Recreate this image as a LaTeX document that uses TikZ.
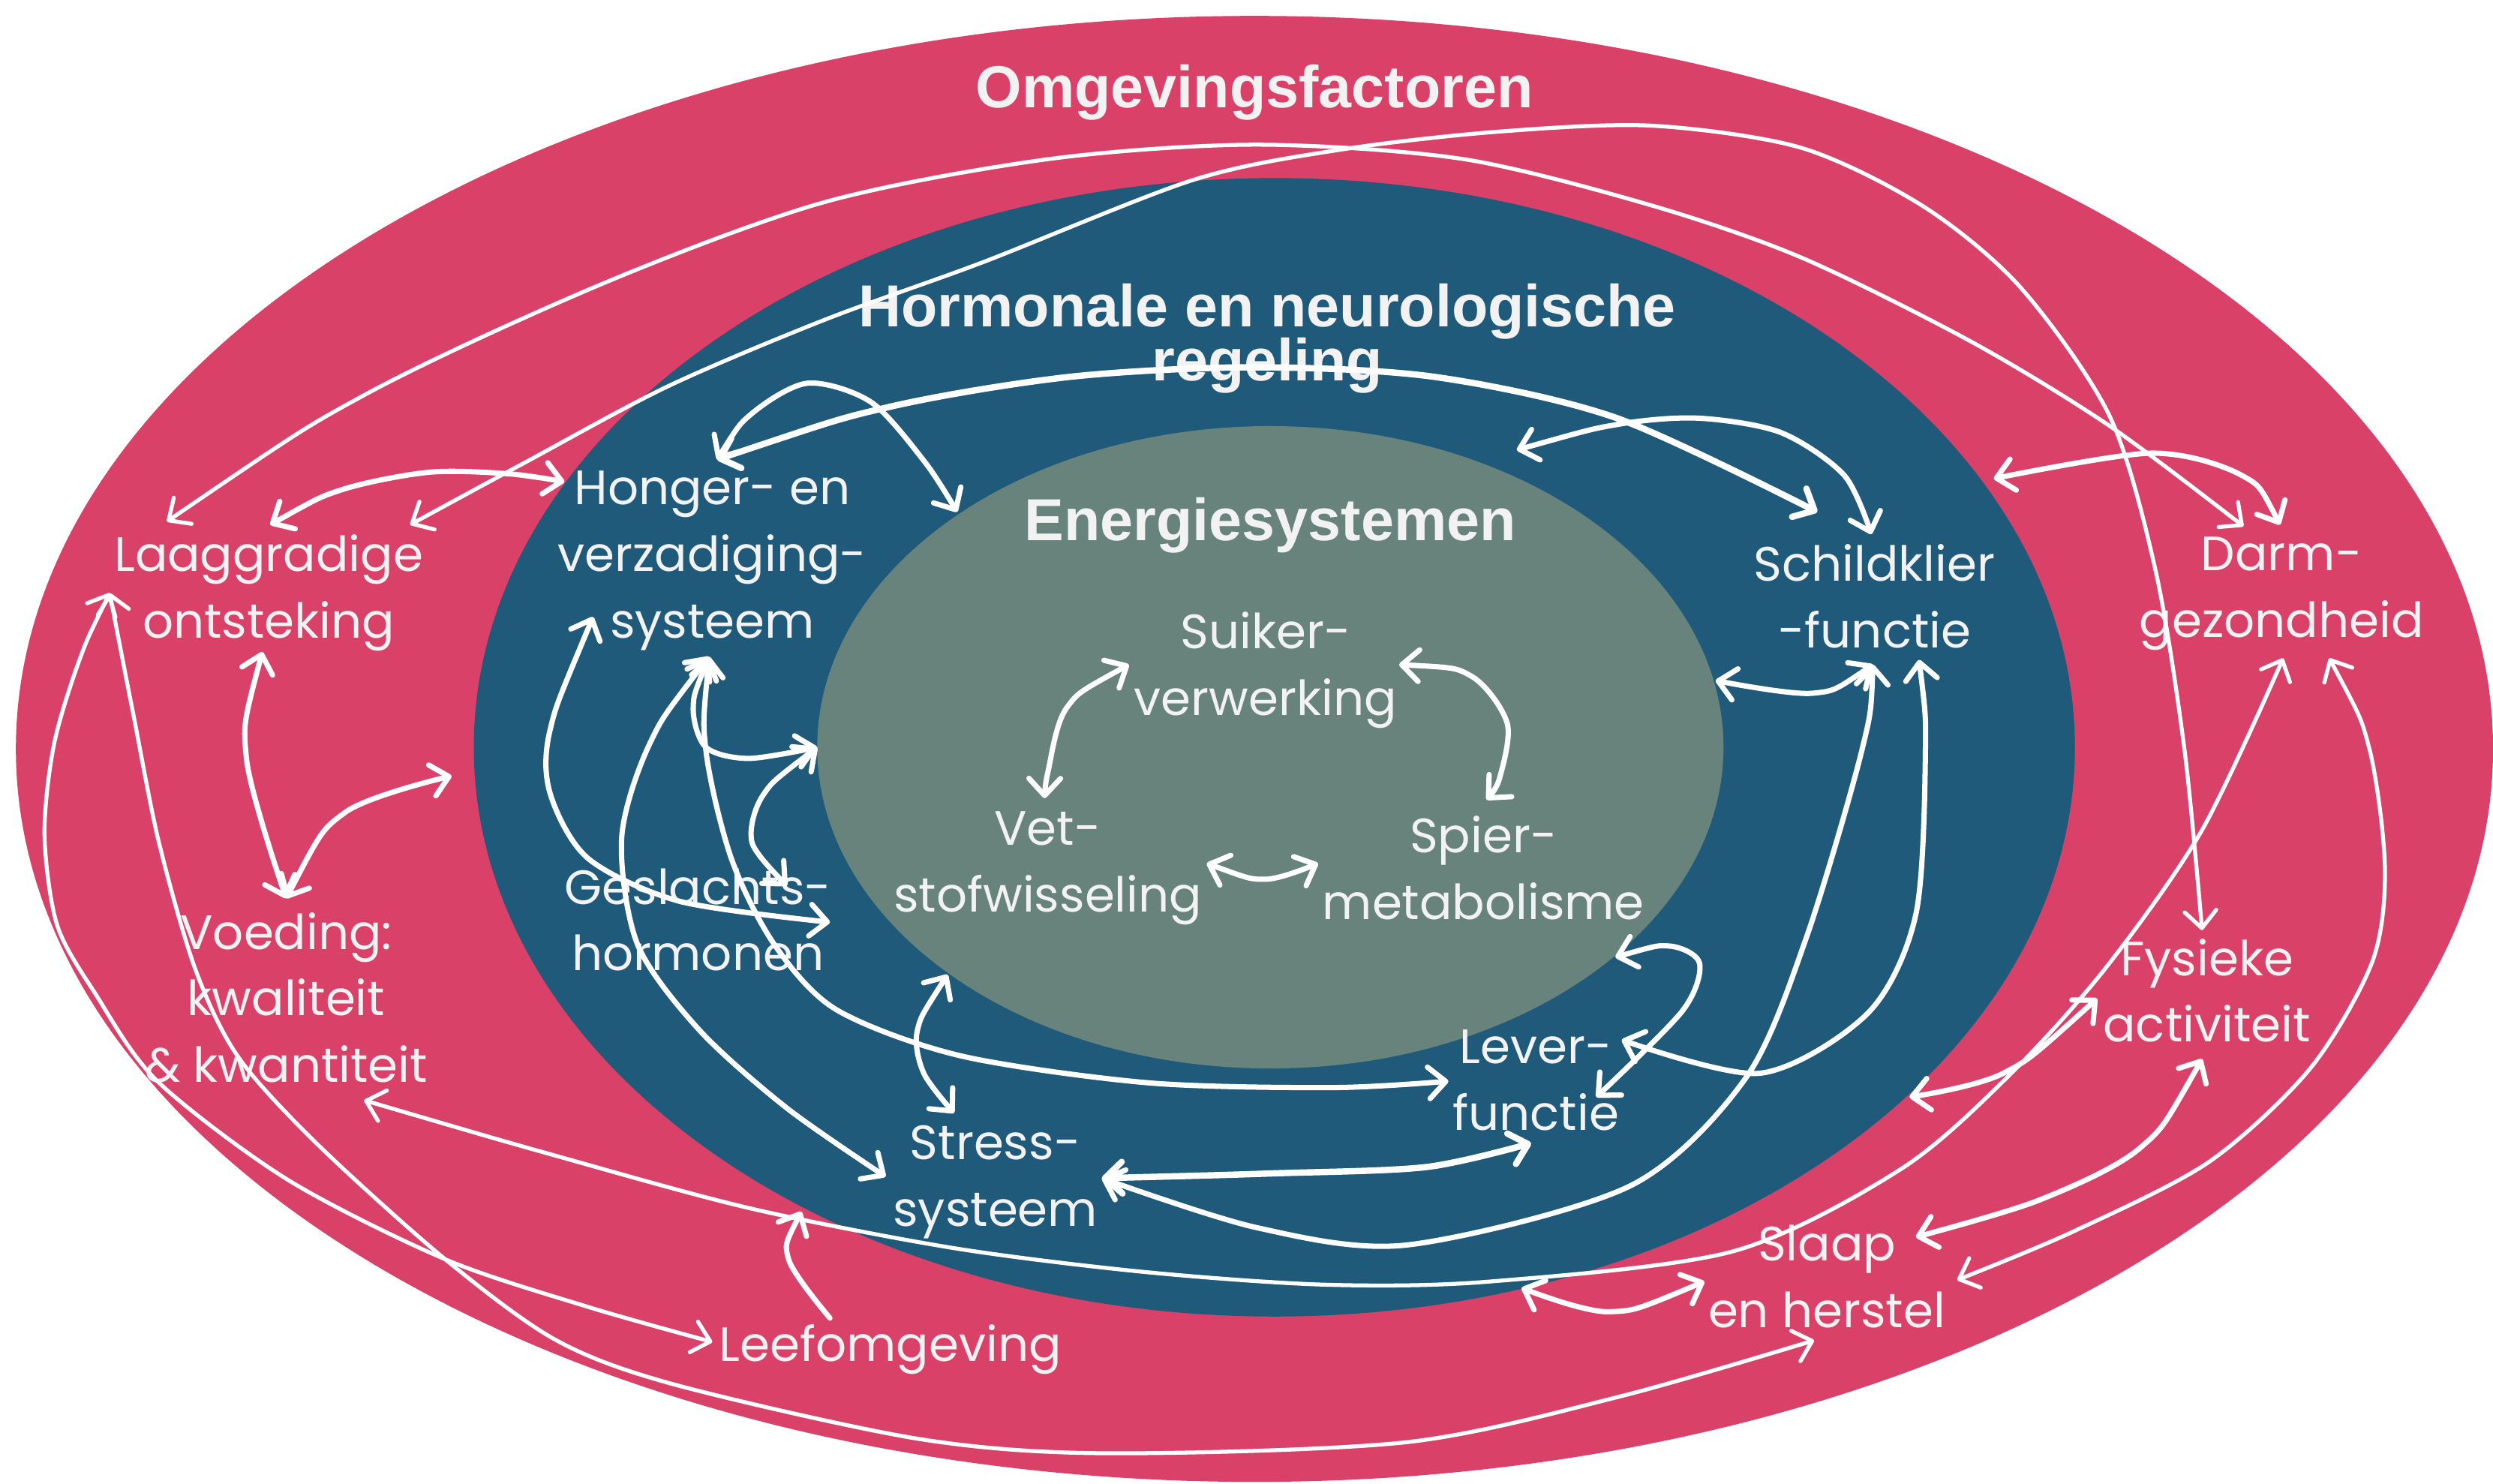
\documentclass[tikz,border=0pt]{standalone}
\usepackage{fontspec}
\setmainfont{Poppins}
\newfontfamily\kopfont{Liberation Sans}
\usetikzlibrary{arrows.meta}
\setlength{\lineskiplimit}{-30pt}

\definecolor{omgev}{HTML}{D94168}
\definecolor{horm}{HTML}{1F5A7B}
\definecolor{energ}{HTML}{67837B}
\definecolor{txt}{HTML}{F2F2F2}

\begin{document}
\begin{tikzpicture}
	[
	x=0.021193cm, y=-0.021193cm, >={Straight Barb[length=6.5pt,width=12pt,round]},
	%Voreinstellungen
	lbl/.style={align=center, text=txt, inner sep=0pt, font=\fontsize{18.3}{25.3}\selectfont},
	ttl/.style={align=center, text=txt, inner sep=0pt, font=\kopfont\bfseries\fontsize{22.5}{20.4}\selectfont},
	link/.style={<->, white, line width=2pt, line cap=round, line join=round},
	thinlink/.style={link, line width=1.5pt},
	boldlink/.style={link, line width=2.4pt}
	]

	%Rahmen
	\useasboundingbox (0,0) rectangle (1568,933.3);
	\fill[white] (0,0) rectangle (1568,933.3);

	%Ellipsen
	\fill[omgev] (789,471) ellipse [x radius=779, y radius=461];
	\fill[horm] (801.5,470) ellipse [x radius=503.5, y radius=358];
	\fill[energ] (799,470) ellipse [x radius=285, y radius=202];

	%Titel
	\node[ttl, anchor=base] (tOmg) at (789,67.6) {Omgevingsfactoren};
	\node[ttl] (tHorm) at (797,213) {Hormonale en neurologische\\regeling};
	\node[ttl, anchor=base] (tEnerg) at (799,340) {Energiesystemen};

	%Beschriftung innen
	\node[lbl] (suiker) at (796,421.5) {Suiker-\\verwerking};
	\node[lbl] (vet) at (659,546) {Vet-\\stofwisseling};
	\node[lbl] (spier) at (933,546) {Spier-\\metabolisme};

	%Beschriftung Mitte
	\node[lbl] (honger) at (448,352.5) {Honger- en\\verzadiging-\\systeem};
	\node[lbl] (geslacht) at (439,578.5) {Geslachts-\\hormonen};
	\node[lbl] (stress) at (626,743.5) {Stress-\\systeem};
	\node[lbl] (lever) at (966,679.5) {Lever-\\functie};
	\node[lbl] (schild) at (1179,375) {Schildklier\\-functie};

	%Beschriftung aussen
	\node[lbl] (laag) at (169,373) {Laaggradige\\ontsteking};
	\node[lbl] (voeding) at (180,627.5) {Voeding:\\kwaliteit\\\& kwantiteit};
	\node[lbl, anchor=base] (leef) at (560,856) {Leefomgeving};
	\node[lbl] (slaap) at (1149,803) {Slaap\\en herstel};
	\node[lbl] (fysiek) at (1388,623) {Fysieke\\activiteit};
	\node[lbl] (darm) at (1435,373.5) {Darm-\\gezondheid};

	%Endpunkte
	\coordinate (laagA) at (105,328);
	\coordinate (laagB) at (258,330);
	\coordinate (laagC) at (170,330);
	\coordinate (laagD) at (165,410);
	\coordinate (laagE) at (69,373);
	\coordinate (darmA) at (1411,331);
	\coordinate (darmB) at (1436,414);
	\coordinate (darmC) at (1465,414);
	\coordinate (darmD) at (1434,330);
	\coordinate (fysA) at (1385,585);
	\coordinate (fysB) at (1385,666);
	\coordinate (fysC) at (1319,628);
	\coordinate (voedA) at (180,565);
	\coordinate (voedB) at (229,692);
	\coordinate (leefA) at (448,844);
	\coordinate (leefB) at (522,829);
	\coordinate (herstA) at (1141,843);
	\coordinate (herstB) at (1231,805);
	\coordinate (herstC) at (1072,806);
	\coordinate (slaapA) at (1205,778);
	\coordinate (hormW) at (284,488);
	\coordinate (hormE) at (1201,690);
	\coordinate (hormS) at (957,810);
	\coordinate (hormNE) at (1254,301);
	\coordinate (hormSW) at (504,762);
	\coordinate (hongA) at (355,303);
	\coordinate (hongB) at (451,289);
	\coordinate (hongC) at (446,413);
	\coordinate (hongD) at (373,388);
	\coordinate (schA) at (1143,322);
	\coordinate (schB) at (1177,336);
	\coordinate (schC) at (1178,418);
	\coordinate (schD) at (1207,415);
	\coordinate (strA) at (693,741);
	\coordinate (strB) at (557,740);
	\coordinate (strC) at (600,700);
	\coordinate (levA) at (1020,654);
	\coordinate (levB) at (1004,690);
	\coordinate (levC) at (963,719);
	\coordinate (levD) at (911,680);
	\coordinate (geslA) at (522,580);
	\coordinate (geslB) at (495,557);
	\coordinate (enNW) at (602,322);
	\coordinate (enNE) at (954,283);
	\coordinate (enE) at (1079,428);
	\coordinate (enSE) at (1016,602);
	\coordinate (enW) at (514,470);
	\coordinate (enS) at (596,613);
	\coordinate (suiA) at (710,418);
	\coordinate (suiB) at (880,418);
	\coordinate (vetA) at (657,502);
	\coordinate (vetB) at (759,543);
	\coordinate (spiA) at (935,503);
	\coordinate (spiB) at (829,543);

	%Pfeile aeusserer Ring
	\draw[thinlink] plot[smooth] coordinates {(laagA) (230,248) (380,178) (519,127) (660,100) (790,91) (920,100) (1038,129) (1133,162) (1240,215) (1327,268) (darmA)};
	\draw[thinlink] plot[smooth] coordinates {(laagB) (330,291) (420,243) (519,201) (618,165) (751,113) (844,94) (940,83) (1038,79) (1133,93) (1210,130) (1271,181) (1327,262) (1356,360) (1374,472) (fysA)};
	\draw[thinlink] plot[smooth] coordinates {(laagE) (50,415) (34,468) (28,525) (36,582) (60,625) (99,680) (181,742) (280,792) (370,822) (leefA)};
	\draw[thinlink] plot[smooth] coordinates {(laagE) (84,450) (100,530) (123,610) (150,665) (200,720) (280,792) (350,843) (425,871) (578,905) (696,914) (885,907) (1020,878) (herstA)};
	\draw[thinlink] plot[smooth] coordinates {(voedB) (350,727) (472,760) (600,785) (720,800) (834,808) (937,806) (1090,787) (1196,735) (1265,675) (1325,608) (1385,522) (darmB)};
	\draw[thinlink] plot[smooth] coordinates {(darmC) (1490,470) (1500,546) (1492,605) (1453,672) (1389,731) (1303,775) (herstB)};
	\draw[link] plot[smooth] coordinates {(laagC) (215,308) (270,297) (320,298) (hongA)};
	\draw[link] plot[smooth] coordinates {(laagD) (155,477) (voedA)};
	\draw[link] plot[smooth] coordinates {(voedA) (217,511) (hormW)};
	\draw[link] plot[smooth] coordinates {(fysB) (1346,722) (1282,755) (slaapA)};
	\draw[link] plot[smooth] coordinates {(fysC) (1260,675) (hormE)};
	\draw[link] plot[smooth] coordinates {(herstC) (1012,825) (hormS)};
	\draw[link] plot[smooth] coordinates {(darmD) (1410,299) (1353,285) (hormNE)};
	\draw[link, <-] plot[smooth] coordinates {(hormSW) (496,792) (leefB)};

	%Pfeile mittlerer Ring
	\draw[boldlink] plot[smooth] coordinates {(hongB) (559,256) (673,237) (788,231) (902,237) (1017,263) (schA)};
	\draw[link] plot[smooth] coordinates {(hongB) (473,260) (508,241) (548,253) (582,291) (enNW)};
	\draw[link] plot[smooth] coordinates {(enNE) (1017,267) (1068,263) (1120,272) (1160,299) (schB)};
	\draw[link] plot[smooth] coordinates {(schC) (1140,436) (enE)};
	\draw[link] plot[smooth] coordinates {(schC) (1171,472) (1136,590) (1098,678) (1025,746) (885,783) (790,772) (strA)};
	\draw[link] plot[smooth] coordinates {(schD) (1211,472) (1205,575) (1175,637) (1107,675) (levA)};
	\draw[link] plot[smooth] coordinates {(enSE) (1050,595) (1069,606) (1058,636) (levB)};
	\draw[boldlink] plot[smooth] coordinates {(strA) (800,738) (897,734) (levC)};
	\draw[link] plot[smooth] coordinates {(hongC) (444,472) (460,540) (487,594) (526,635) (604,664) (722,681) (839,684) (levD)};
	\draw[link] plot[smooth] coordinates {(hongC) (436,445) (444,470) (471,477) (enW)};
	\draw[link] plot[smooth] coordinates {(hongC) (409,467) (391,527) (401,594) (440,648) (495,697) (strB)};
	\draw[link] plot[smooth] coordinates {(hongD) (346,459) (346,499) (370,540) (428,567) (geslA)};
	\draw[link] plot[smooth] coordinates {(enW) (480,500) (473,530) (geslB)};
	\draw[link] plot[smooth] coordinates {(enS) (577,648) (581,675) (strC)};

	%Pfeile innen
	\draw[link] plot[smooth] coordinates {(suiA) (671,445) (659,486) (vetA)};
	\draw[link] plot[smooth] coordinates {(suiB) (925,425) (948,455) (943,490) (spiA)};
	\draw[link] plot[smooth] coordinates {(vetB) (796,553) (spiB)};
\end{tikzpicture}
\end{document}
